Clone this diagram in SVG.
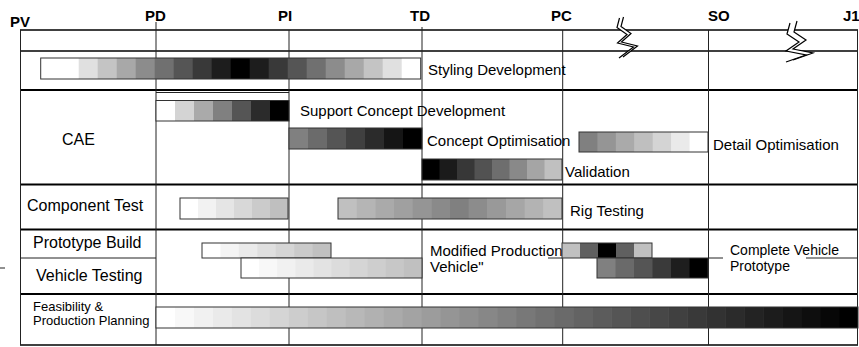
<svg xmlns="http://www.w3.org/2000/svg" width="859" height="347" viewBox="0 0 859 347">
<style>
.t{font-family:"Liberation Sans",Arial,sans-serif;fill:#000}
.h{font-weight:bold;font-size:15px}
.l{font-size:15px}
.c{font-size:16px}
.s{font-size:13px}
.hl{stroke:#000;stroke-width:1.3;fill:none}
.hk{stroke:#000;stroke-width:2;fill:none}
.vl{stroke:#222;stroke-width:1;fill:none}
.bo{fill:none;stroke:#333;stroke-width:1}
.zz{fill:none;stroke:#000;stroke-width:1.2}
</style>
<rect width="859" height="347" fill="#fff"/>

<g id="grid">
  <line class="hl" x1="20" y1="30" x2="858" y2="30"/>
  <line class="hl" x1="20" y1="51" x2="858" y2="51"/>
  <line class="hk" x1="20" y1="90" x2="858" y2="90"/>
  <line class="vl" x1="156" y1="92.5" x2="289" y2="92.5"/>
  <line class="hk" x1="20" y1="184.5" x2="858" y2="184.5"/>
  <line class="hk" x1="20" y1="229.5" x2="858" y2="229.5"/>
  <line class="vl" x1="20" y1="258" x2="156" y2="258"/>
  <line class="vl" x1="548" y1="258" x2="562" y2="258"/>
  <line class="vl" x1="708" y1="258" x2="723" y2="258"/>
  <line class="vl" x1="806" y1="258" x2="858" y2="258"/>
  <line class="hk" x1="20" y1="294" x2="858" y2="294"/>
  <line class="hl" x1="20" y1="345" x2="858" y2="345"/>
  <line class="vl" x1="20.5" y1="30" x2="20.5" y2="345"/>
  <line class="vl" x1="156" y1="22" x2="156" y2="345"/>
  <line class="vl" x1="289" y1="30" x2="289" y2="345"/>
  <line class="vl" x1="422" y1="27" x2="422" y2="345"/>
  <line class="vl" x1="562.7" y1="30" x2="562.7" y2="345"/>
  <line class="vl" x1="708.5" y1="30" x2="708.5" y2="345"/>
  <line class="vl" x1="857.5" y1="30" x2="857.5" y2="345"/>
  <line class="vl" x1="0" y1="268" x2="5" y2="268"/>
</g>

<g id="milestones">
  <text class="t h" x="10" y="27">PV</text>
  <text class="t h" x="145" y="21">PD</text>
  <text class="t h" x="278" y="21">PI</text>
  <text class="t h" x="410" y="21">TD</text>
  <text class="t h" x="551" y="21">PC</text>
  <text class="t h" x="708" y="21">SO</text>
  <text class="t h" x="843" y="21">J1</text>
</g>

<g id="breaks">
  <polygon points="619.5,18 617,27.5 627,34.5 617.5,43 633.5,47 619,58 623,57 637.5,46 621.5,42 631,33.5 621,26.5 623.5,17" fill="#fff"/>
  <polyline class="zz" points="619.5,18 617,27.5 627,34.5 617.5,43 633.5,47 619,58"/>
  <polyline class="zz" points="623.5,17 621,26.5 631,33.5 621.5,42 637.5,46 623,57"/>
  <polygon points="790,23 787,34 799,42 786,51 806,55 786,62 793,60 813,53 793,49 806,40 794,32 797,21" fill="#fff"/>
  <polyline class="zz" points="790,23 787,34 799,42 786,51 806,55 786,62"/>
  <polyline class="zz" points="797,21 794,32 806,40 793,49 813,53 793,60"/>
</g>

<g id="styling">
  <g transform="translate(0,58)">
  <rect x="40.7" width="19.5" height="21" fill="#fff"/>
  <rect x="59.7" width="19.5" height="21" fill="#fff"/>
  <rect x="78.7" width="19.5" height="21" fill="#e0e0e0"/>
  <rect x="97.7" width="19.5" height="21" fill="#c4c4c4"/>
  <rect x="116.7" width="19.5" height="21" fill="#a8a8a8"/>
  <rect x="135.7" width="19.5" height="21" fill="#8c8c8c"/>
  <rect x="154.7" width="19.5" height="21" fill="#707070"/>
  <rect x="173.7" width="19.5" height="21" fill="#555555"/>
  <rect x="192.7" width="19.5" height="21" fill="#393939"/>
  <rect x="211.7" width="19.5" height="21" fill="#1d1d1d"/>
  <rect x="230.7" width="19.5" height="21" fill="#000000"/>
  <rect x="249.7" width="19.5" height="21" fill="#1d1d1d"/>
  <rect x="268.7" width="19.5" height="21" fill="#393939"/>
  <rect x="287.7" width="19.5" height="21" fill="#555555"/>
  <rect x="306.7" width="19.5" height="21" fill="#707070"/>
  <rect x="325.7" width="19.5" height="21" fill="#8c8c8c"/>
  <rect x="344.7" width="19.5" height="21" fill="#a8a8a8"/>
  <rect x="363.7" width="19.5" height="21" fill="#c4c4c4"/>
  <rect x="382.7" width="19.5" height="21" fill="#e0e0e0"/>
  <rect x="401.7" width="19" height="21" fill="#fff"/>
  <rect class="bo" x="40.7" width="380" height="21"/>
  </g>
  <text class="t l" x="428" y="75">Styling Development</text>
</g>

<g id="cae-label"><text class="t c" x="62" y="145">CAE</text></g>

<g id="support">
  <g transform="translate(0,100.5)">
  <rect x="156" width="19.5" height="20.5" fill="#fff"/>
  <rect x="175" width="19.5" height="20.5" fill="#d4d4d4"/>
  <rect x="194" width="19.5" height="20.5" fill="#aaaaaa"/>
  <rect x="213" width="19.5" height="20.5" fill="#808080"/>
  <rect x="232" width="19.5" height="20.5" fill="#555555"/>
  <rect x="251" width="19.5" height="20.5" fill="#2b2b2b"/>
  <rect x="270" width="19" height="20.5" fill="#000"/>
  <rect class="bo" x="156" width="133" height="20.5"/>
  </g>
  <text class="t l" x="300" y="115.7">Support Concept Development</text>
</g>

<g id="concept">
  <g transform="translate(0,128)">
  <rect x="289" width="19.5" height="21" fill="#808080"/>
  <rect x="308" width="19.5" height="21" fill="#6b6b6b"/>
  <rect x="327" width="19.5" height="21" fill="#555555"/>
  <rect x="346" width="19.5" height="21" fill="#404040"/>
  <rect x="365" width="19.5" height="21" fill="#2b2b2b"/>
  <rect x="384" width="19.5" height="21" fill="#151515"/>
  <rect x="403" width="19" height="21" fill="#000"/>
  <rect class="bo" x="289" width="133" height="21"/>
  </g>
  <text class="t l" x="427" y="146">Concept Optimisation</text>
</g>

<g id="validation">
  <g transform="translate(0,159)">
  <rect x="422" width="18" height="21" fill="#000"/>
  <rect x="439.5" width="18" height="21" fill="#1b1b1b"/>
  <rect x="457" width="18" height="21" fill="#373737"/>
  <rect x="474.5" width="18" height="21" fill="#525252"/>
  <rect x="492" width="18" height="21" fill="#6e6e6e"/>
  <rect x="509.5" width="18" height="21" fill="#898989"/>
  <rect x="527" width="18" height="21" fill="#a5a5a5"/>
  <rect x="544.5" width="17.5" height="21" fill="#c0c0c0"/>
  <rect class="bo" x="422" width="140" height="21"/>
  </g>
  <text class="t l" x="565" y="177">Validation</text>
</g>

<g id="detail">
  <g transform="translate(0,132)">
  <rect x="579" width="19" height="20" fill="#808080"/>
  <rect x="597.43" width="19" height="20" fill="#959595"/>
  <rect x="615.86" width="19" height="20" fill="#aaaaaa"/>
  <rect x="634.29" width="19" height="20" fill="#bfbfbf"/>
  <rect x="652.71" width="19" height="20" fill="#d4d4d4"/>
  <rect x="671.14" width="19" height="20" fill="#eaeaea"/>
  <rect x="689.57" width="18.43" height="20" fill="#fff"/>
  <rect class="bo" x="579" width="129" height="20"/>
  </g>
  <text class="t l" x="713" y="150">Detail Optimisation</text>
</g>

<g id="component-test">
  <text class="t c" x="27" y="211">Component Test</text>
  <g transform="translate(0,198)">
  <rect x="180" width="18.5" height="21" fill="#fff"/>
  <rect x="198" width="18.5" height="21" fill="#f2f2f2"/>
  <rect x="216" width="18.5" height="21" fill="#e5e5e5"/>
  <rect x="234" width="18.5" height="21" fill="#d8d8d8"/>
  <rect x="252" width="18.5" height="21" fill="#cbcbcb"/>
  <rect x="270" width="18" height="21" fill="#bfbfbf"/>
  <rect class="bo" x="180" width="108" height="21"/>
  </g>
</g>

<g id="rig-testing">
  <g transform="translate(0,198)">
  <rect x="338" width="19.2" height="21" fill="#c0c0c0"/>
  <rect x="356.67" width="19.2" height="21" fill="#b5b5b5"/>
  <rect x="375.33" width="19.2" height="21" fill="#aaaaaa"/>
  <rect x="394" width="19.2" height="21" fill="#a0a0a0"/>
  <rect x="412.67" width="19.2" height="21" fill="#959595"/>
  <rect x="431.33" width="19.2" height="21" fill="#8a8a8a"/>
  <rect x="450" width="19.2" height="21" fill="#808080"/>
  <rect x="468.67" width="19.2" height="21" fill="#8c8c8c"/>
  <rect x="487.33" width="19.2" height="21" fill="#999999"/>
  <rect x="506" width="19.2" height="21" fill="#a6a6a6"/>
  <rect x="524.67" width="19.2" height="21" fill="#b3b3b3"/>
  <rect x="543.33" width="18.67" height="21" fill="#c0c0c0"/>
  <rect class="bo" x="338" width="224" height="21"/>
  </g>
  <text class="t l" x="570" y="216">Rig Testing</text>
</g>

<g id="prototype-build">
  <text class="t c" x="33" y="248">Prototype Build</text>
  <g transform="translate(0,243)">
  <rect x="202" width="19" height="15" fill="#fff"/>
  <rect x="220.43" width="19" height="15" fill="#f4f4f4"/>
  <rect x="238.86" width="19" height="15" fill="#eaeaea"/>
  <rect x="257.29" width="19" height="15" fill="#dfdfdf"/>
  <rect x="275.71" width="19" height="15" fill="#d5d5d5"/>
  <rect x="294.14" width="19" height="15" fill="#cacaca"/>
  <rect x="312.57" width="18.43" height="15" fill="#c0c0c0"/>
  <rect class="bo" x="202" width="129" height="15"/>
  </g>
</g>

<g id="vehicle-testing">
  <text class="t c" x="36" y="281">Vehicle Testing</text>
  <g transform="translate(0,258)">
  <rect x="241" width="18.6" height="20" fill="#fff"/>
  <rect x="259.1" width="18.6" height="20" fill="#f8f8f8"/>
  <rect x="277.2" width="18.6" height="20" fill="#f1f1f1"/>
  <rect x="295.3" width="18.6" height="20" fill="#eaeaea"/>
  <rect x="313.4" width="18.6" height="20" fill="#e3e3e3"/>
  <rect x="331.5" width="18.6" height="20" fill="#dcdcdc"/>
  <rect x="349.6" width="18.6" height="20" fill="#d5d5d5"/>
  <rect x="367.7" width="18.6" height="20" fill="#cecece"/>
  <rect x="385.8" width="18.6" height="20" fill="#c7c7c7"/>
  <rect x="403.9" width="18.1" height="20" fill="#c0c0c0"/>
  <rect class="bo" x="241" width="181" height="20"/>
  </g>
</g>

<g id="modified-production">
  <text class="t l" x="430" y="256">Modified Production</text>
  <text class="t l" x="430" y="272">Vehicle"</text>
</g>

<g id="pc-bars">
  <g transform="translate(0,243)">
  <rect x="562" width="18.5" height="15" fill="#c0c0c0"/>
  <rect x="580" width="18.5" height="15" fill="#606060"/>
  <rect x="598" width="18.5" height="15" fill="#000"/>
  <rect x="616" width="18.5" height="15" fill="#606060"/>
  <rect x="634" width="18" height="15" fill="#c0c0c0"/>
  <rect class="bo" x="562" width="90" height="15"/>
  </g>
  <g transform="translate(0,258)">
  <rect x="597" width="19" height="20" fill="#808080"/>
  <rect x="615.5" width="19" height="20" fill="#6a6a6a"/>
  <rect x="634" width="19" height="20" fill="#555555"/>
  <rect x="652.5" width="19" height="20" fill="#3a3a3a"/>
  <rect x="671" width="19" height="20" fill="#1e1e1e"/>
  <rect x="689.5" width="18.5" height="20" fill="#000"/>
  <rect class="bo" x="597" width="111" height="20"/>
  </g>
</g>

<g id="complete-vehicle">
  <text class="t" font-size="14" x="730" y="255">Complete Vehicle</text>
  <text class="t" font-size="14" x="730" y="271">Prototype</text>
</g>

<g id="feasibility">
  <text class="t s" x="33" y="311">Feasibility &amp;</text>
  <text class="t s" x="33" y="325">Production Planning</text>
  <g transform="translate(0,307)">
  <rect x="156" width="19.5" height="21" fill="#ffffff"/>
  <rect x="174.97" width="19.5" height="21" fill="#f8f8f8"/>
  <rect x="193.95" width="19.5" height="21" fill="#f1f1f1"/>
  <rect x="212.92" width="19.5" height="21" fill="#eaeaea"/>
  <rect x="231.89" width="19.5" height="21" fill="#e3e3e3"/>
  <rect x="250.86" width="19.5" height="21" fill="#dcdcdc"/>
  <rect x="269.84" width="19.5" height="21" fill="#d5d5d5"/>
  <rect x="288.81" width="19.5" height="21" fill="#cdcdcd"/>
  <rect x="307.78" width="19.5" height="21" fill="#c6c6c6"/>
  <rect x="326.76" width="19.5" height="21" fill="#bfbfbf"/>
  <rect x="345.73" width="19.5" height="21" fill="#b8b8b8"/>
  <rect x="364.7" width="19.5" height="21" fill="#b1b1b1"/>
  <rect x="383.68" width="19.5" height="21" fill="#aaaaaa"/>
  <rect x="402.65" width="19.5" height="21" fill="#a3a3a3"/>
  <rect x="421.62" width="19.5" height="21" fill="#9c9c9c"/>
  <rect x="440.59" width="19.5" height="21" fill="#959595"/>
  <rect x="459.57" width="19.5" height="21" fill="#8e8e8e"/>
  <rect x="478.54" width="19.5" height="21" fill="#878787"/>
  <rect x="497.51" width="19.5" height="21" fill="#808080"/>
  <rect x="516.49" width="19.5" height="21" fill="#787878"/>
  <rect x="535.46" width="19.5" height="21" fill="#717171"/>
  <rect x="554.43" width="19.5" height="21" fill="#6a6a6a"/>
  <rect x="573.41" width="19.5" height="21" fill="#636363"/>
  <rect x="592.38" width="19.5" height="21" fill="#5c5c5c"/>
  <rect x="611.35" width="19.5" height="21" fill="#555555"/>
  <rect x="630.32" width="19.5" height="21" fill="#4e4e4e"/>
  <rect x="649.3" width="19.5" height="21" fill="#474747"/>
  <rect x="668.27" width="19.5" height="21" fill="#404040"/>
  <rect x="687.24" width="19.5" height="21" fill="#393939"/>
  <rect x="706.22" width="19.5" height="21" fill="#323232"/>
  <rect x="725.19" width="19.5" height="21" fill="#2b2b2b"/>
  <rect x="744.16" width="19.5" height="21" fill="#232323"/>
  <rect x="763.14" width="19.5" height="21" fill="#1c1c1c"/>
  <rect x="782.11" width="19.5" height="21" fill="#151515"/>
  <rect x="801.08" width="19.5" height="21" fill="#0e0e0e"/>
  <rect x="820.05" width="19.5" height="21" fill="#070707"/>
  <rect x="839.03" width="18.97" height="21" fill="#000000"/>
  <rect class="bo" x="156" width="702" height="21"/>
  </g>
</g>
</svg>
